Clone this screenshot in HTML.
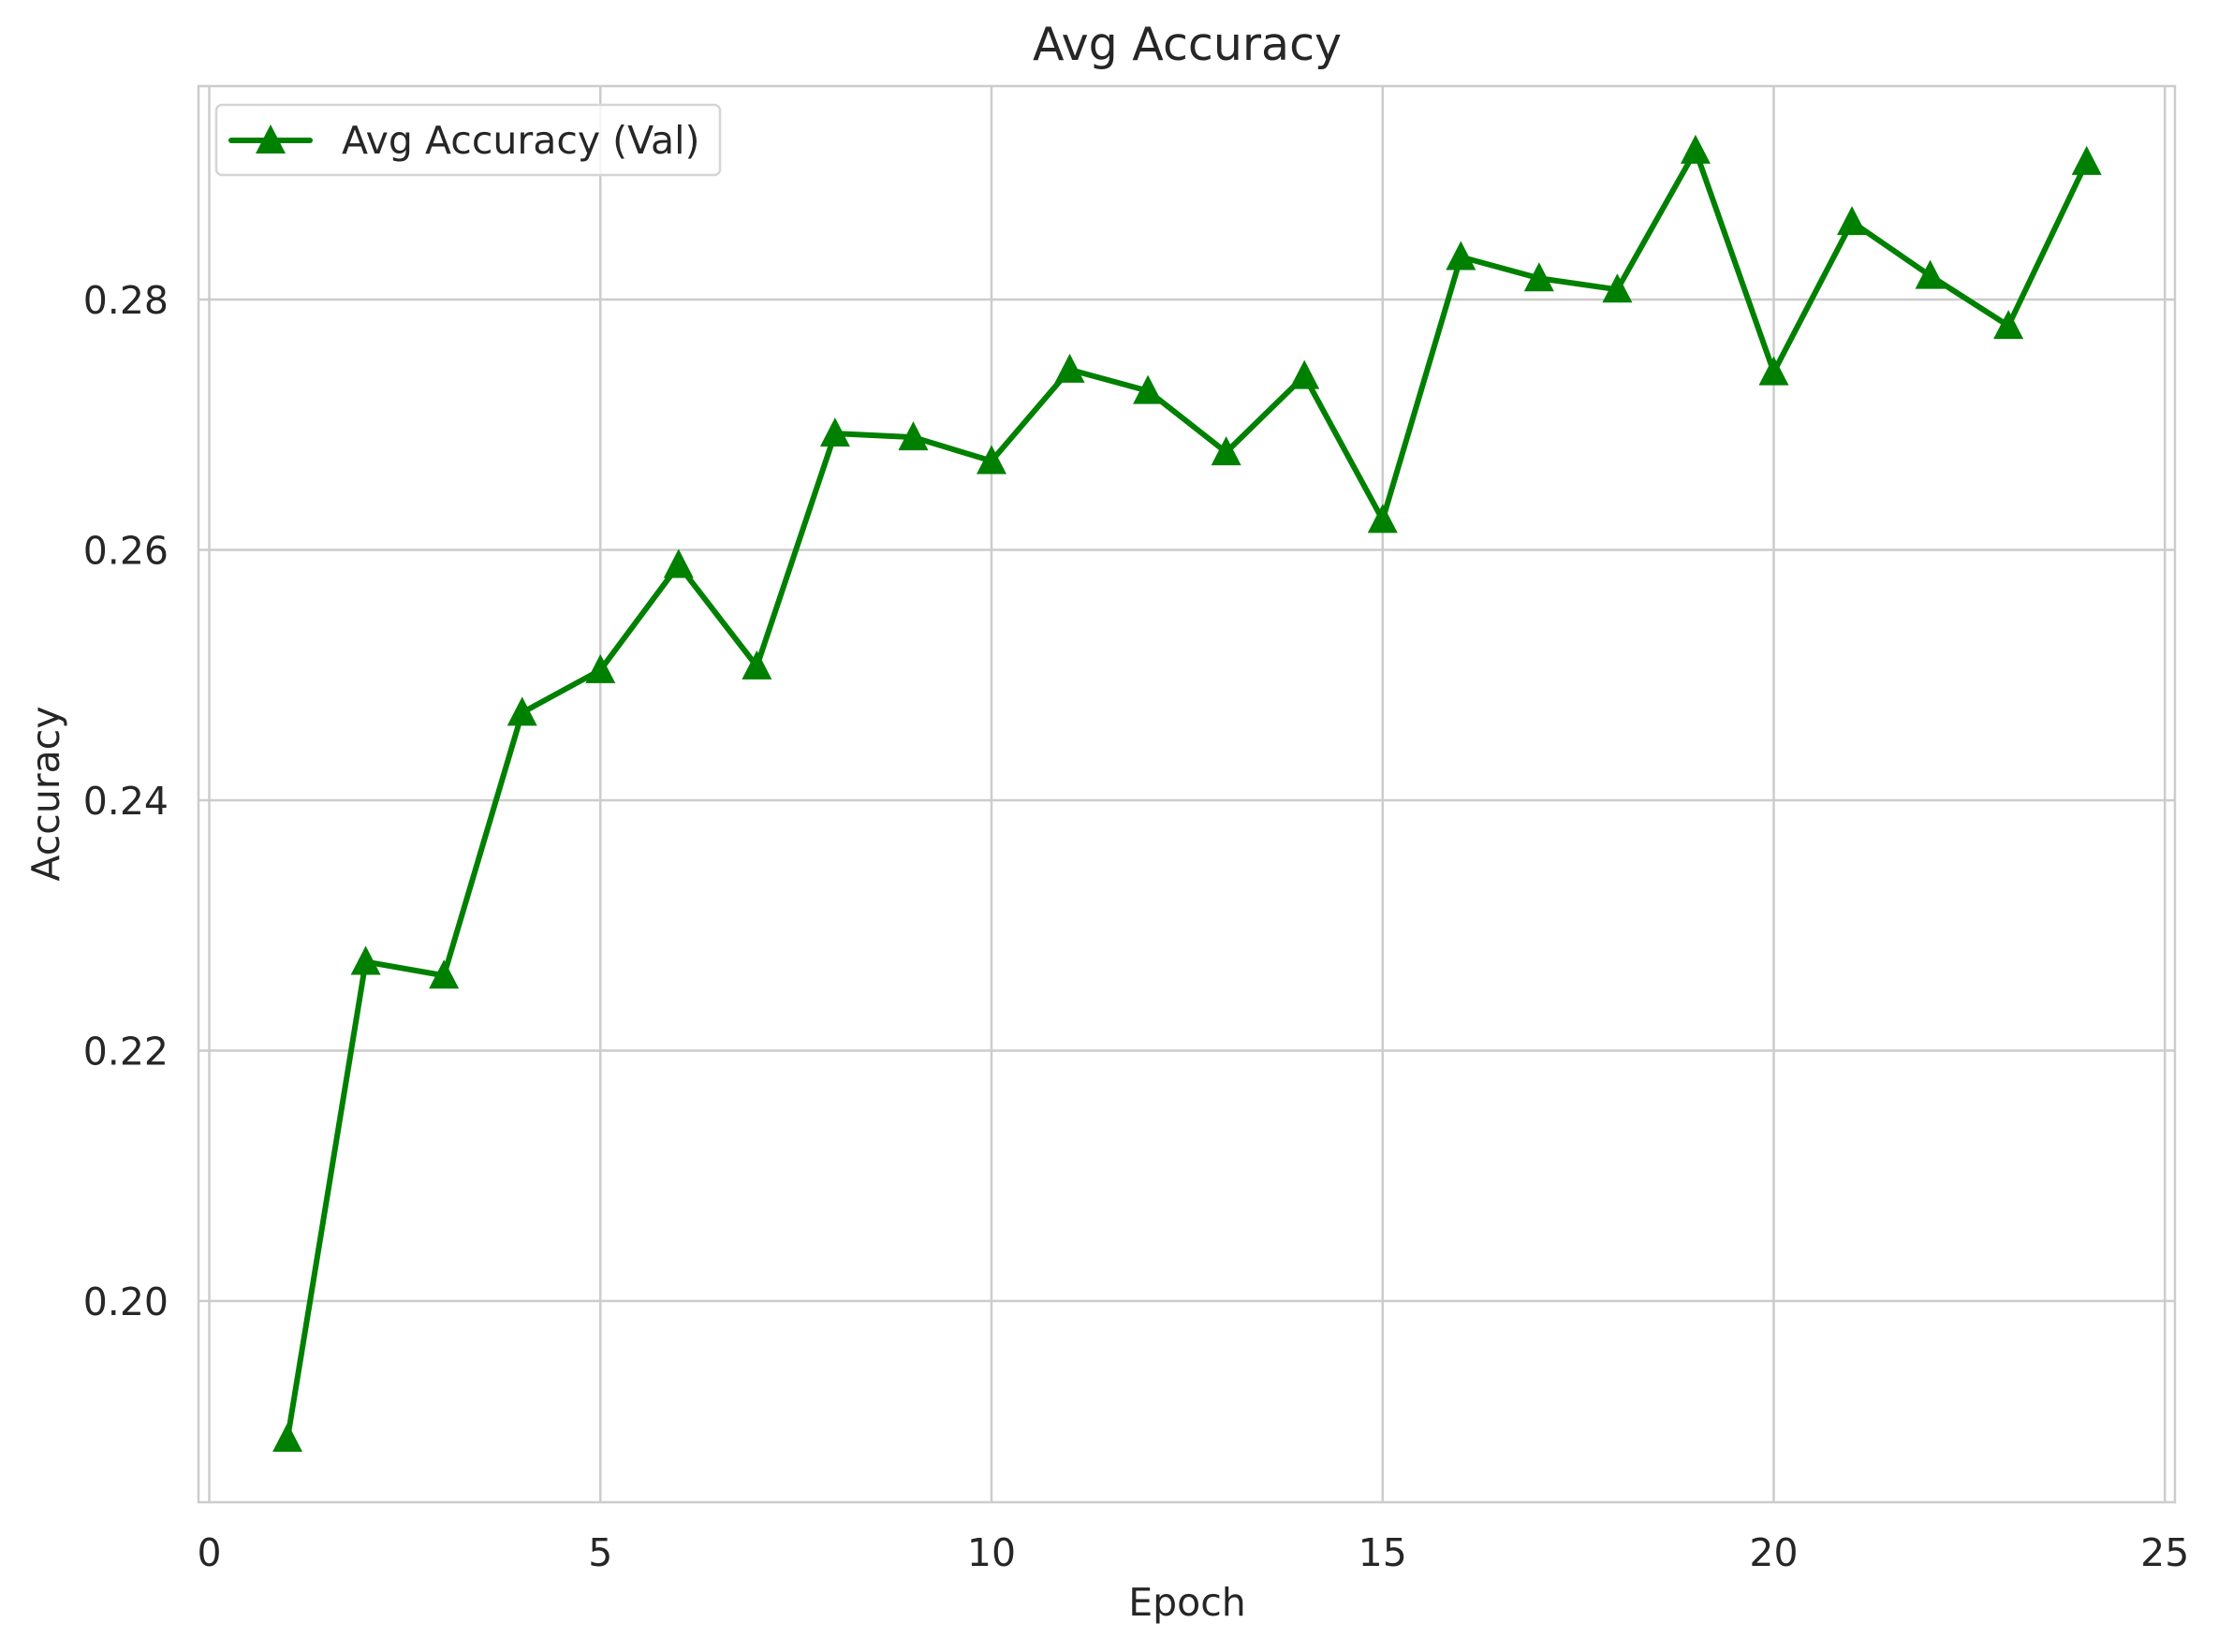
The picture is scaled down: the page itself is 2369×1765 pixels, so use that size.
<!DOCTYPE html>
<html><head><meta charset="utf-8"><style>
html,body{margin:0;padding:0;background:#fff;}
svg{display:block;font-family:"DejaVu Sans","Liberation Sans",sans-serif;}
</style></head><body>
<svg id="chart" width="2369" height="1765" viewBox="0 0 2369 1765" xmlns="http://www.w3.org/2000/svg">
<rect width="2369" height="1765" fill="#fff"/>
<g id="grid"></g>
<rect x="212" y="92" width="2111" height="1513" fill="none" stroke="#cccccc" stroke-width="2.5"/>
<g id="ticks"></g>
<g id="series"></g>
<text x="1268" y="64" text-anchor="middle" font-size="49" fill="#262626">Avg Accuracy</text>
<text x="1268" y="1726" text-anchor="middle" font-size="41" fill="#262626">Epoch</text>
<text x="0" y="0" transform="translate(63,848) rotate(-90)" text-anchor="middle" font-size="41" fill="#262626">Accuracy</text>
<g>
<rect x="231" y="112" width="538" height="75" rx="6" fill="#fff" fill-opacity="0.8" stroke="#d5d5d5" stroke-width="2.5"/>
<line x1="247" y1="150" x2="331" y2="150" stroke="#008000" stroke-width="6" stroke-linecap="round"/>
<polygon points="289,133 273,164 305,164" fill="#008000"/>
<text x="365" y="164" font-size="41" fill="#262626">Avg Accuracy (Val)</text>
</g>
</svg>
<script>
const epochs = [1,2,3,4,5,6,7,8,9,10,11,12,13,14,15,16,17,18,19,20,21,22,23,24];
const accuracy = [0.1890,0.2271,0.2260,0.2470,0.2504,0.2588,0.2507,0.2693,0.2690,0.2671,0.2744,0.2727,0.2678,0.2739,0.2624,0.2834,0.2817,0.2808,0.2919,0.2742,0.2862,0.2819,0.2779,0.2910];
const xTicks = [0,5,10,15,20,25];
const yTicks = [0.20,0.22,0.24,0.26,0.28];
const yTickLabels = ["0.20","0.22","0.24","0.26","0.28"];

const NS = "http://www.w3.org/2000/svg";
function xs(v){ return 223.5 + v*83.55; }
function ys(v){ return 320 + (0.28 - v)/0.02*267.5; }
function mk(tag, attrs, parent){ const e=document.createElementNS(NS,tag); for(const k in attrs) e.setAttribute(k,attrs[k]); parent.appendChild(e); return e; }

const grid=document.getElementById('grid'), ticks=document.getElementById('ticks'), series=document.getElementById('series');
xTicks.forEach(t=>{
  const l=mk('line',{x1:xs(t),x2:xs(t),y1:92,y2:1605,stroke:'#cccccc','stroke-width':2.5},grid);
  
  
  const tx=mk('text',{x:xs(t),y:1673,'text-anchor':'middle','font-size':41,fill:'#262626'},ticks);
  tx.textContent=String(t);
  
  
});
yTicks.forEach((t,i)=>{
  const l=mk('line',{x1:212,x2:2323,y1:ys(t),y2:ys(t),stroke:'#cccccc','stroke-width':2.5},grid);
  
  
  const tx=mk('text',{x:180,y:ys(t)+15,'text-anchor':'end','font-size':41,fill:'#262626'},ticks);
  tx.textContent=yTickLabels[i];
  
  
});
const pts=epochs.map((e,i)=>xs(e)+','+ys(accuracy[i])).join(' ');
const pl=mk('polyline',{points:pts,fill:'none',stroke:'#008000','stroke-width':6,'stroke-linejoin':'round'},series);


epochs.forEach((e,i)=>{
  const cx=xs(e), cy=ys(accuracy[i]);
  const p=mk('polygon',{points:`${cx},${cy-17} ${cx-16},${cy+14} ${cx+16},${cy+14}`,fill:'#008000'},series);
  
  
});
</script>
</body></html>
